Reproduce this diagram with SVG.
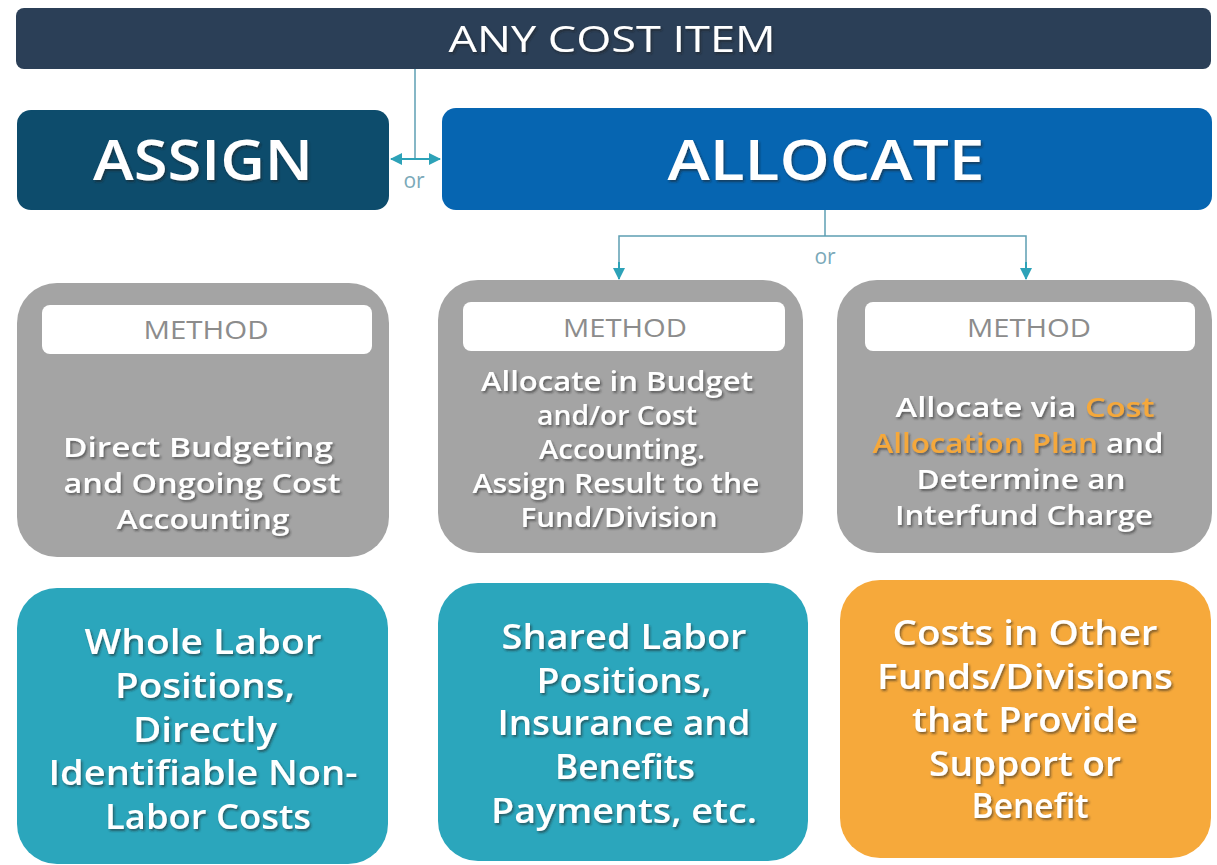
<svg xmlns="http://www.w3.org/2000/svg" width="1217" height="865" viewBox="0 0 1217 865">
  <defs>
    <filter id="txtShadow" x="-10%" y="-20%" width="120%" height="150%">
      <feDropShadow dx="1.5" dy="2" stdDeviation="1" flood-color="#1a1a1a" flood-opacity="0.55"/>
    </filter>
    <marker id="arrowHead" viewBox="0 0 12 12" refX="11" refY="6" markerWidth="12" markerHeight="12" markerUnits="userSpaceOnUse" orient="auto-start-reverse">
      <path d="M0,0 L12,6 L0,12 Z" fill="#2da2b8"/>
    </marker>
    <style>
      .sans { font-family: "Open Sans", "Noto Sans", "Liberation Sans", sans-serif; }
      .head { fill: #ffffff; font-weight: 600; font-size: 56px; text-anchor: middle; }
      .title { fill: #ffffff; font-weight: 500; font-size: 36px; text-anchor: middle; }
      .method { fill: #8c8c8c; font-weight: 400; font-size: 25px; text-anchor: middle; }
      .body { fill: #ffffff; font-weight: 600; font-size: 27px; text-anchor: middle; }
      .big { fill: #ffffff; font-weight: 600; font-size: 34px; text-anchor: middle; }
      .hl { fill: #f5a83a; }
      .or { fill: #7aa9b9; font-weight: 400; font-size: 21px; text-anchor: middle; }
      .pill { fill: #ffffff; }
      .grey { fill: #a4a4a4; }
      .teal { fill: #2ba6bc; }
      .link { fill: none; stroke: #5e9fb3; stroke-width: 1.5; }
      .arrow { fill: none; stroke: #2da2b8; stroke-width: 2; }
    </style>
  </defs>

  <rect width="1217" height="865" fill="#ffffff"/>

  <!-- top banner -->
  <g id="any-cost-item">
    <rect x="16" y="8" width="1195" height="61" rx="8" fill="#2b3f57"/>
    <text class="sans title" x="612" y="52" textLength="327" lengthAdjust="spacingAndGlyphs" filter="url(#txtShadow)">ANY COST ITEM</text>
  </g>

  <!-- two choices -->
  <g id="assign">
    <rect x="17" y="110" width="372" height="100" rx="14" fill="#0d4c6c"/>
    <text class="sans head" x="203" y="180" textLength="220" lengthAdjust="spacingAndGlyphs" filter="url(#txtShadow)">ASSIGN</text>
  </g>
  <g id="allocate">
    <rect x="442" y="108" width="770" height="102" rx="14" fill="#0665b1"/>
    <text class="sans head" x="826" y="180" textLength="317" lengthAdjust="spacingAndGlyphs" filter="url(#txtShadow)">ALLOCATE</text>
  </g>

  <!-- connectors -->
  <g id="connectors">
    <line class="link" x1="415" y1="69" x2="415" y2="159"/>
    <line class="arrow" x1="391" y1="159" x2="440" y2="159" marker-start="url(#arrowHead)" marker-end="url(#arrowHead)"/>
    <text class="sans or" x="414" y="188">or</text>

    <polyline class="link" points="825,210 825,236"/>
    <polyline class="link" points="619,279 619,236 1026,236 1026,279"/>
    <line class="arrow" x1="619" y1="262" x2="619" y2="279" marker-end="url(#arrowHead)"/>
    <line class="arrow" x1="1026" y1="262" x2="1026" y2="279" marker-end="url(#arrowHead)"/>
    <text class="sans or" x="825" y="264">or</text>
  </g>

  <!-- method boxes -->
  <g id="method-direct">
    <rect class="grey" x="17" y="283" width="372" height="274" rx="40"/>
    <rect class="pill" x="42" y="305" width="330" height="49" rx="8"/>
    <text class="sans method" x="206" y="339" textLength="125" lengthAdjust="spacingAndGlyphs">METHOD</text>
    <g filter="url(#txtShadow)">
      <text class="sans body" x="198" y="457" textLength="270" lengthAdjust="spacingAndGlyphs">Direct Budgeting</text>
      <text class="sans body" x="202" y="493" textLength="277" lengthAdjust="spacingAndGlyphs">and Ongoing Cost</text>
      <text class="sans body" x="203" y="529" textLength="173" lengthAdjust="spacingAndGlyphs">Accounting</text>
    </g>
  </g>

  <g id="method-budget">
    <rect class="grey" x="438" y="280" width="365" height="273" rx="40"/>
    <rect class="pill" x="463" y="302" width="322" height="49" rx="8"/>
    <text class="sans method" x="625" y="337" textLength="124" lengthAdjust="spacingAndGlyphs">METHOD</text>
    <g filter="url(#txtShadow)">
      <text class="sans body" x="617" y="391" textLength="272" lengthAdjust="spacingAndGlyphs">Allocate in Budget</text>
      <text class="sans body" x="617" y="425" textLength="160" lengthAdjust="spacingAndGlyphs">and/or Cost</text>
      <text class="sans body" x="622" y="459" textLength="166" lengthAdjust="spacingAndGlyphs">Accounting.</text>
      <text class="sans body" x="616" y="493" textLength="287" lengthAdjust="spacingAndGlyphs">Assign Result to the</text>
      <text class="sans body" x="619" y="527" textLength="197" lengthAdjust="spacingAndGlyphs">Fund/Division</text>
    </g>
  </g>

  <g id="method-plan">
    <rect class="grey" x="837" y="280" width="375" height="273" rx="40"/>
    <rect class="pill" x="865" y="302" width="330" height="49" rx="8"/>
    <text class="sans method" x="1029" y="337" textLength="124" lengthAdjust="spacingAndGlyphs">METHOD</text>
    <g filter="url(#txtShadow)">
      <text class="sans body" x="1025" y="417" textLength="259" lengthAdjust="spacingAndGlyphs">Allocate via <tspan class="hl">Cost</tspan></text>
      <text class="sans body" x="1018" y="453" textLength="291" lengthAdjust="spacingAndGlyphs"><tspan class="hl">Allocation Plan</tspan> and</text>
      <text class="sans body" x="1021" y="489" textLength="209" lengthAdjust="spacingAndGlyphs">Determine an</text>
      <text class="sans body" x="1024" y="525" textLength="258" lengthAdjust="spacingAndGlyphs">Interfund Charge</text>
    </g>
  </g>

  <!-- cost item boxes -->
  <g id="items-whole">
    <rect class="teal" x="17" y="588" width="371" height="276" rx="40"/>
    <g filter="url(#txtShadow)">
      <text class="sans big" x="203" y="654" textLength="237" lengthAdjust="spacingAndGlyphs">Whole Labor</text>
      <text class="sans big" x="205" y="698" textLength="180" lengthAdjust="spacingAndGlyphs">Positions,</text>
      <text class="sans big" x="205" y="742" textLength="144" lengthAdjust="spacingAndGlyphs">Directly</text>
      <text class="sans big" x="203" y="785" textLength="309" lengthAdjust="spacingAndGlyphs">Identifiable Non-</text>
      <text class="sans big" x="208" y="829" textLength="206" lengthAdjust="spacingAndGlyphs">Labor Costs</text>
    </g>
  </g>

  <g id="items-shared">
    <rect class="teal" x="438" y="583" width="370" height="278" rx="40"/>
    <g filter="url(#txtShadow)">
      <text class="sans big" x="624" y="649" textLength="245" lengthAdjust="spacingAndGlyphs">Shared Labor</text>
      <text class="sans big" x="624" y="693" textLength="175" lengthAdjust="spacingAndGlyphs">Positions,</text>
      <text class="sans big" x="624" y="735" textLength="253" lengthAdjust="spacingAndGlyphs">Insurance and</text>
      <text class="sans big" x="625" y="779" textLength="140" lengthAdjust="spacingAndGlyphs">Benefits</text>
      <text class="sans big" x="624" y="823" textLength="266" lengthAdjust="spacingAndGlyphs">Payments, etc.</text>
    </g>
  </g>

  <g id="items-support">
    <rect x="840" y="580" width="371" height="278" rx="40" fill="#f6a93b"/>
    <g filter="url(#txtShadow)">
      <text class="sans big" x="1025" y="645" textLength="265" lengthAdjust="spacingAndGlyphs">Costs in Other</text>
      <text class="sans big" x="1025" y="689" textLength="296" lengthAdjust="spacingAndGlyphs">Funds/Divisions</text>
      <text class="sans big" x="1025" y="732" textLength="226" lengthAdjust="spacingAndGlyphs">that Provide</text>
      <text class="sans big" x="1025" y="776" textLength="192" lengthAdjust="spacingAndGlyphs">Support or</text>
      <text class="sans big" x="1030" y="818" textLength="117" lengthAdjust="spacingAndGlyphs">Benefit</text>
    </g>
  </g>
</svg>
